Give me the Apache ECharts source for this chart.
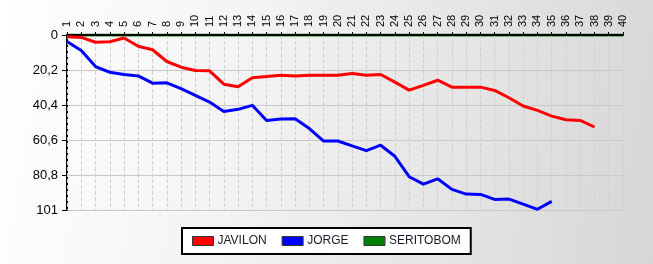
<!DOCTYPE html>
<html>
<head>
<meta charset="utf-8">
<script src="https://cdn.jsdelivr.net/npm/echarts@6/dist/echarts.min.js"></script>
<style>
html,body{margin:0;padding:0;}
#c{width:653px;height:264px;background:linear-gradient(100deg,#ffffff 0%,#f4f4f4 35%,#e2e2e2 75%,#d6d6d6 100%);}
</style>
</head>
<body>
<div id="c"></div>
<script>
var categories = [];
for (var i = 1; i <= 40; i++) categories.push(String(i));
var yTickLabels = ['0', '20,2', '40,4', '60,6', '80,8', '101'];
var javilon = [1, 1.4, 4.2, 3.9, 1.7, 6.5, 8.5, 15.3, 18.6, 20.5, 20.7, 28.4, 29.9, 24.7, 24.0, 23.2, 23.6, 23.3, 23.3, 23.2, 22.2, 23.2, 22.8, 27.2, 31.8, 29.1, 26.1, 30.1, 30.1, 30.1, 32.0, 36.2, 41.0, 43.5, 46.8, 48.9, 49.3, 53.1];
var jorge = [3.7, 9.0, 18.2, 21.5, 22.8, 23.6, 27.8, 27.6, 31.0, 34.9, 38.7, 44.1, 42.9, 40.6, 49.4, 48.5, 48.3, 54.0, 61.2, 61.2, 64.0, 66.7, 63.6, 70.0, 81.8, 86.1, 83.0, 89.1, 91.8, 92.0, 94.9, 94.7, 97.6, 100.6, 96.0];
var seritobom = [0,0,0,0,0,0,0,0,0,0,0,0,0,0,0,0,0,0,0,0,0,0,0,0,0,0,0,0,0,0,0,0,0,0,0,0,0,0,0,0];

var chart = echarts.init(document.getElementById('c'));
var font = 'Liberation Sans, Arial, sans-serif';
chart.setOption({
  animation: false,
  textStyle: {fontFamily: font},
  grid: {left: 67, right: 30, top: 35, bottom: 54, containLabel: false},
  xAxis: {
    type: 'category',
    position: 'top',
    offset: 2,
    boundaryGap: false,
    data: categories,
    z: 1.5,
    axisLine: {lineStyle: {color: '#000', width: 2}},
    axisTick: {length: 3, lineStyle: {color: '#000'}, alignWithLabel: true},
    axisLabel: {rotate: 90, color: '#000', fontSize: 11, margin: 6, interval: 0, fontFamily: font},
    splitLine: {show: true, lineStyle: {color: '#d0d0d0', type: 'dashed', width: 1}}
  },
  yAxis: {
    type: 'value',
    inverse: true,
    min: 0,
    max: 101,
    interval: 20.2,
    z: 0,
    axisLine: {show: true, lineStyle: {color: '#000', width: 2}},
    axisTick: {show: true, length: 5, lineStyle: {color: '#000'}},
    axisLabel: {color: '#000', fontSize: 13, margin: 9, fontFamily: font,
      formatter: function (v, i) { return yTickLabels[i]; }},
    splitLine: {show: true, lineStyle: {color: '#c8c8c8', width: 1}}
  },
  legend: {
    left: 182,
    top: 228,
    width: 287,
    orient: 'horizontal',
    backgroundColor: '#fff',
    borderColor: '#000',
    borderWidth: 2,
    borderRadius: 0,
    padding: [7, 10, 7, 10],
    itemGap: 15,
    itemWidth: 21,
    itemHeight: 9,
    icon: 'rect',
    textStyle: {color: '#1a1a2a', fontSize: 12, fontFamily: font, padding: [0, 0, 0, -1]},
    itemStyle: {borderColor: '#333', borderWidth: 1},
    data: ['JAVILON', 'JORGE', 'SERITOBOM']
  },
  series: [
    {name: 'JAVILON', type: 'line', z: 2, data: javilon, showSymbol: false, symbol: 'none', color: '#ff0000', lineStyle: {width: 3, color: '#ff0000'}},
    {name: 'JORGE', type: 'line', z: 2, data: jorge, showSymbol: false, symbol: 'none', color: '#0000ff', lineStyle: {width: 3, color: '#0000ff'}},
    {name: 'SERITOBOM', type: 'line', z: 1, data: seritobom, showSymbol: false, symbol: 'none', color: '#008000', lineStyle: {width: 3, color: '#008000'}}
  ]
});
</script>
</body>
</html>
